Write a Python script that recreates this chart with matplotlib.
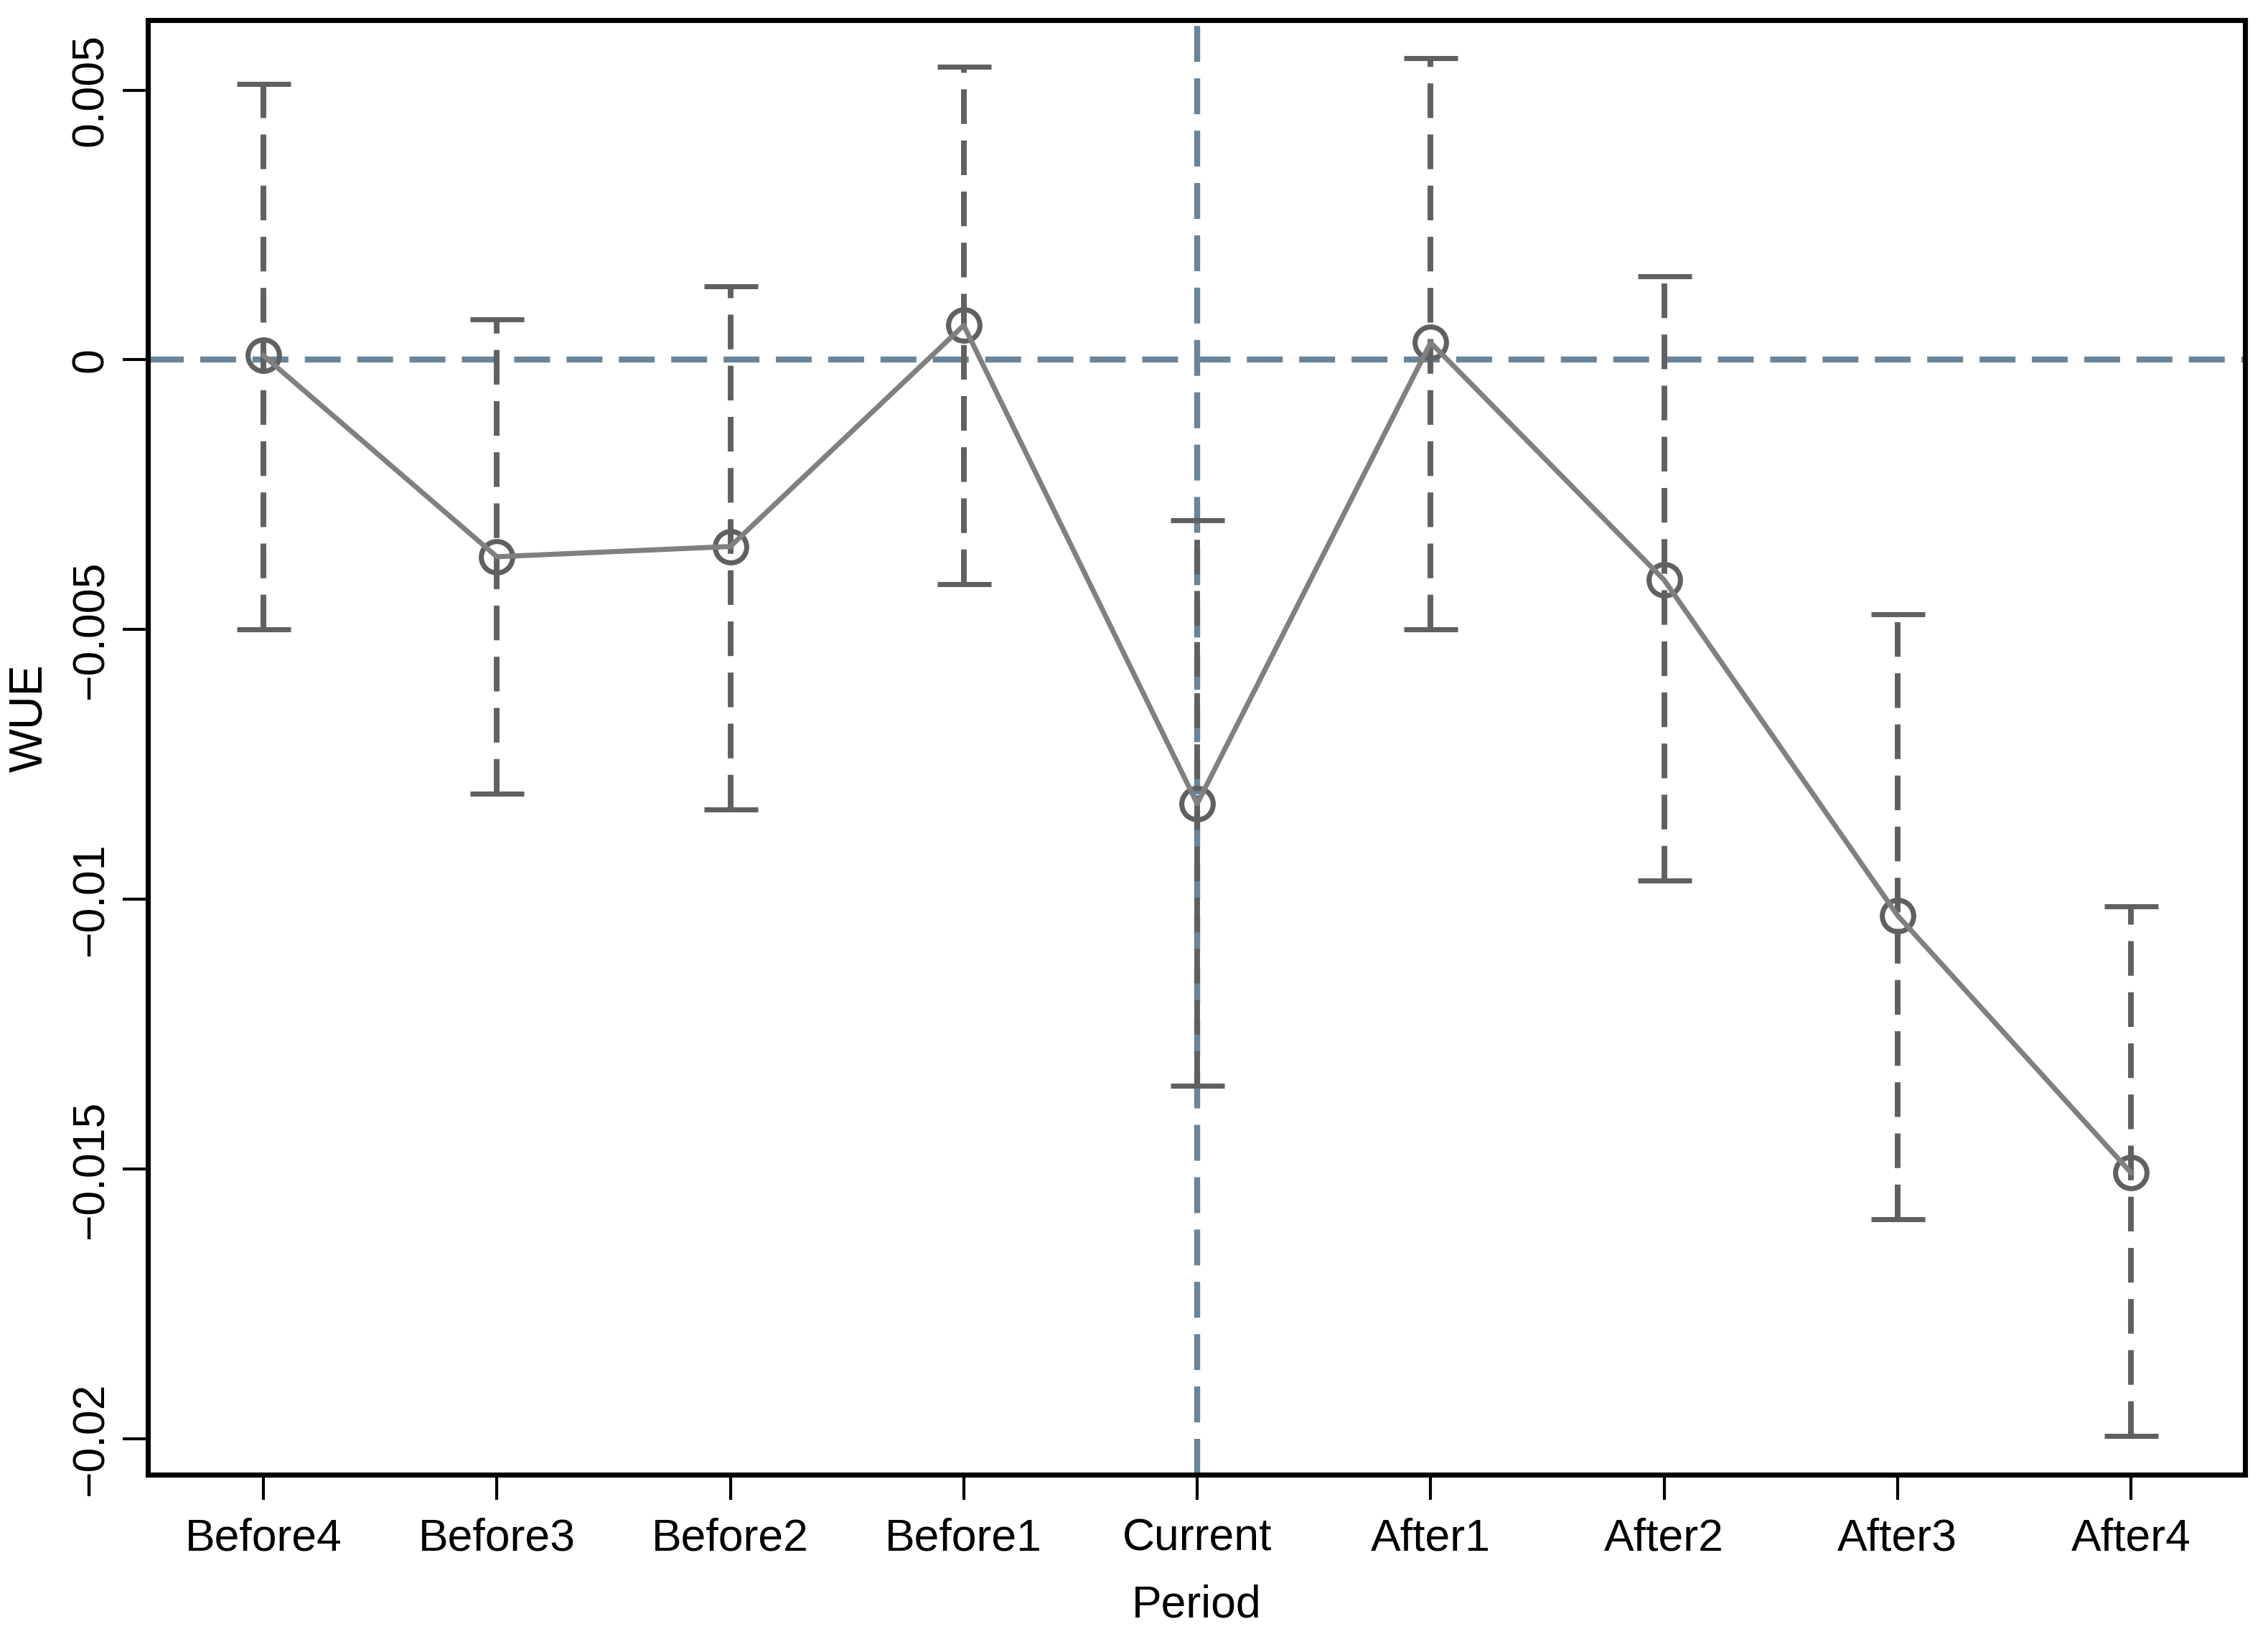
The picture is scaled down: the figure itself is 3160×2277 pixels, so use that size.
import numpy as np
import matplotlib.pyplot as plt

plt.rcParams['font.family'] = ['Liberation Sans', 'DejaVu Sans']

periods = ['Before4', 'Before3', 'Before2', 'Before1', 'Current',
           'After1', 'After2', 'After3', 'After4']
coef = [0.00008, -0.00365, -0.00346, 0.00064, -0.00823,
        0.00032, -0.00408, -0.0103, -0.01507]
ci_upper = [0.00512, 0.00075, 0.00137, 0.00544, -0.00298,
            0.0056, 0.00155, -0.00472, -0.01013]
ci_lower = [-0.00499, -0.00804, -0.00834, -0.00416, -0.01346,
            -0.00499, -0.00965, -0.01593, -0.01995]
yticks = [-0.02, -0.015, -0.01, -0.005, 0, 0.005]
ytick_labels = ['\u22120.02', '\u22120.015', '\u22120.01', '\u22120.005', '0', '0.005']

x = np.arange(1, len(periods) + 1)
coef = np.array(coef)
err = [coef - np.array(ci_lower), np.array(ci_upper) - coef]

fig = plt.figure(figsize=(3160 / 300, 2277 / 300), dpi=300)
ax = fig.add_axes([0.0652, 0.0975, 0.9248, 0.8902])

ref_col = '#688599'
ax.axhline(0, color=ref_col, lw=2.0, dashes=(6, 2.75), zorder=1)
ax.axvline(5, color=ref_col, lw=2.0, dashes=(6, 2.75), zorder=1)

eb = ax.errorbar(x, coef, yerr=err, fmt='none', ecolor='#606060',
                 elinewidth=1.9, capsize=9, capthick=1.7, zorder=2)
eb[2][0].set_linestyle((0, (6.1, 2.9)))

ax.plot(x, coef, color='#808080', lw=1.7, zorder=4)
ax.plot(x, coef, 'o', ms=10.5, mfc='none', mec='#606060', mew=1.7, zorder=3)

ax.set_xlim(0.505, 9.49)
ax.set_ylim(-0.02067, 0.0063)
ax.set_xticks(x)
ax.set_xticklabels(periods, fontsize=15)
ax.set_yticks(yticks)
ax.set_yticklabels(ytick_labels, fontsize=15, rotation=90, va='center')
ax.tick_params(axis='both', length=8.4, width=1.0, color='black')
ax.tick_params(axis='y', pad=3.5)
ax.tick_params(axis='x', pad=6)

for s in ax.spines.values():
    s.set_linewidth(1.7)

ax.set_xlabel('Period', fontsize=15, labelpad=8)
ax.set_ylabel('WUE', fontsize=15.5)
ax.yaxis.set_label_coords(-0.0462, 0.52)

fig.savefig('out.png', dpi=300)
